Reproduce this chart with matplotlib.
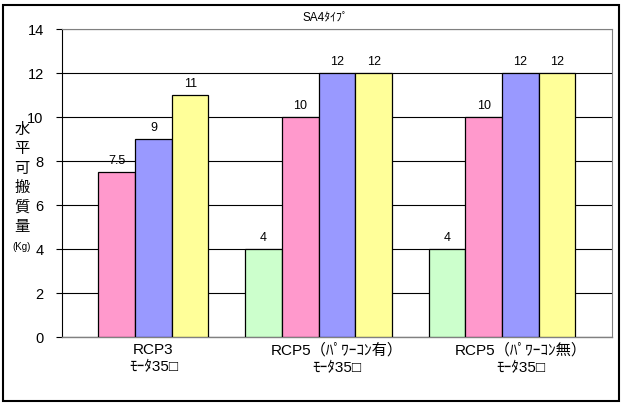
import matplotlib.pyplot as plt
import numpy as np
from matplotlib.patches import Rectangle

plt.rcParams['font.family'] = ['Liberation Sans', 'Noto Sans CJK JP', 'DejaVu Sans']

categories = ['RCP3\nﾓｰﾀ35□', 'RCP5（ﾊﾟﾜｰｺﾝ有）\nﾓｰﾀ35□', 'RCP5（ﾊﾟﾜｰｺﾝ無）\nﾓｰﾀ35□']
green = [None, 4, 4]
pink = [7.5, 10, 10]
blue = [9, 12, 12]
yellow = [11, 12, 12]
series = [green, pink, blue, yellow]
colors = ['#CCFFCC', '#FF99CC', '#9999FF', '#FFFF99']
yticks = [0, 2, 4, 6, 8, 10, 12, 14]

fig = plt.figure(figsize=(6.22, 4.03), dpi=100)
ax = fig.add_axes([0.0992, 0.163, 0.885, 0.764])

# 5 slots per category, last one empty (as in the original sheet)
w = 0.2
x = np.arange(len(categories))
for j, (vals, c) in enumerate(zip(series, colors)):
    for i, v in enumerate(vals):
        if v is None:
            continue
        xc = x[i] - 0.4 + j * w
        ax.bar(xc, v, width=w, color=c, edgecolor='black', linewidth=0.9, zorder=3)
        lab = ('%g' % v)
        ax.annotate(lab, (xc, v), xytext=(0, 4), textcoords='offset points',
                    ha='center', va='bottom', fontsize=9, zorder=4)

ax.set_xlim(-0.5, 2.5)
ax.set_ylim(0, 14)
ax.set_yticks(yticks)
ax.set_yticklabels([str(t) for t in yticks], fontsize=10.5)
ax.set_xticks(x)
ax.set_xticklabels(categories, fontsize=11, linespacing=1.3)
ax.tick_params(axis='x', length=0, pad=4)
ax.tick_params(axis='y', length=4, width=0.8, pad=9)
ax.yaxis.grid(True, color='black', linewidth=0.8, zorder=0)

for s in ['top', 'right']:
    ax.spines[s].set_color('#808080')
    ax.spines[s].set_linewidth(0.8)
ax.spines['bottom'].set_color('#808080')
ax.spines['bottom'].set_linewidth(1.0)
ax.spines['left'].set_color('black')
ax.spines['left'].set_linewidth(0.8)

fig.text(325 / 622, 1 - 17 / 403, 'SA4ﾀｲﾌﾟ', ha='center', va='center', fontsize=8.5)
fig.text(22 / 622, 1 - 178 / 403, '水\n平\n可\n搬\n質\n量', ha='center', va='center',
         fontsize=11, linespacing=1.2, family=['Noto Sans CJK JP'])
fig.text(22 / 622, 1 - 247 / 403, '(Kg)', ha='center', va='center', fontsize=7)

fig.patches.append(Rectangle((3 / 622, 2 / 403), 616 / 622, 396 / 403, transform=fig.transFigure,
                             fill=False, edgecolor='black', linewidth=1.5))

fig.savefig('out.png', dpi=100)
